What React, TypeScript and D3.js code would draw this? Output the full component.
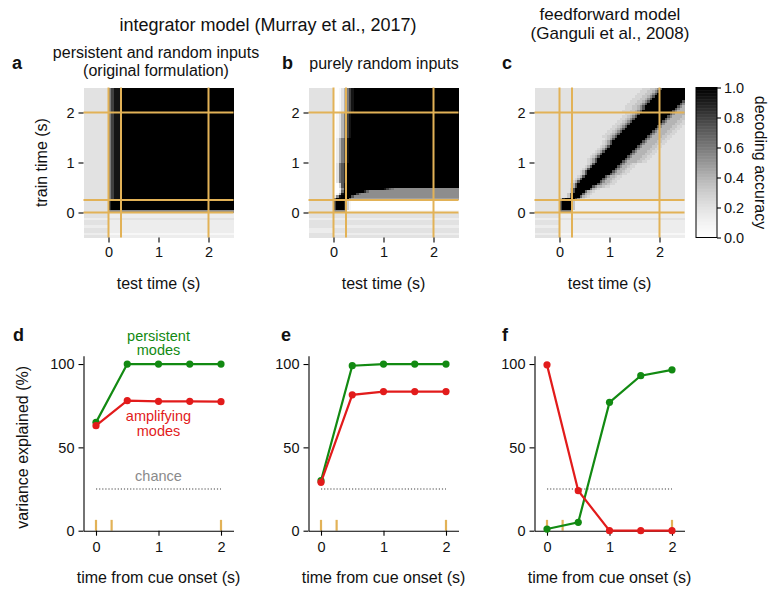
import * as d3 from "d3";
import { useEffect, useRef } from "react";

// decoding matrices, 0.05 s cells, rows from train 2.5 s (top) down to -0.5 s,
// columns from test -0.5 s to 2.5 s. entry = [row repeat, runs "level*count"],
// level is a hex digit 0..f for accuracy 0..1
const heatA: [number, string][] = [
  [45, "3*10 9 c e*3 f*45"],
  [4, "3*10 d f*49"],
  [1, "3*10 8*50"],
  [2, "3*10 2*50"],
  [1, "2*10 3*50"],
  [2, "3*10 2*50"],
  [1, "2*10 2*50"],
  [2, "3*10 2*50"],
  [1, "2*10 1*50"],
  [1, "3*10 2*50"],
];

const heatB: [number, string][] = [
  [10, "3*10 0 0 1 3 6 9 c e f*42"],
  [10, "3*10 0 1 3 6 9 c e f*43"],
  [10, "3*10 0 2 6 9 b e f*44"],
  [8, "3*10 0 3 9 b d f*45"],
  [2, "3*10 0 0 4 b e f*45"],
  [1, "3*10 0 0 1 8 e f*15 e c a 9 8*26"],
  [1, "3*10 0 0 2 a f*8 d a 8*36"],
  [1, "3*10 0 1 6 e f*5 c 9 8*39"],
  [1, "3*10 2 8 e f*4 b 8*42"],
  [1, "3*10 a f*5 9 7*43"],
  [4, "3*10 c f*3 d 4 1 0*43"],
  [1, "3*10 8*5 1*45"],
  [2, "3*10 3*50"],
  [1, "2*10 2*50"],
  [2, "3*10 3*50"],
  [1, "3*10 2*50"],
  [2, "2*10 3*50"],
  [1, "3*10 2*50"],
  [1, "3*10 3*50"],
];

const heatC: [number, string][] = [
  [1, "3*43 4 4 4 5 5 6 8 b f*9"],
  [1, "3*42 4 4 4 5 5 6 8 b f*10"],
  [1, "3*41 4 4 4 5 5 6 8 b f*11"],
  [1, "3*40 4 4 4 5 5 6 8 b f*12"],
  [1, "3*39 4 4 4 5 5 6 8 b f*13"],
  [1, "3*38 4 4 4 5 5 6 8 b f*13 b"],
  [1, "3*37 4 4 4 5 5 6 8 b f*13 b 8"],
  [1, "3*36 4 4 4 5 5 6 8 b f*13 b 8 6"],
  [1, "3*36 4 4 4 5 5 6 8 b f*12 b 8 6 6"],
  [1, "3*35 4 4 4 5 5 6 8 b f*12 b 8 6 6 6"],
  [1, "3*36 4 4 5 6 8 b f*12 b 8 6 6 6 6"],
  [1, "3*35 4 4 5 6 8 b f*12 b 8 6 6 6 6 5"],
  [1, "3*34 4 4 5 6 8 b f*12 b 8 6 6 6 6 5 5"],
  [1, "3*33 4 4 5 6 8 b f*12 b 8 6 6 6 6 5 5 4"],
  [1, "3*32 4 4 5 6 8 b f*12 b 8 6 6 6 6 5 5 4 4"],
  [1, "3*31 4 4 5 6 8 b f*12 b 8 6 6 6 6 5 5 4 4 3"],
  [1, "3*30 4 4 5 6 8 b f*12 b 8 6 6 6 6 5 5 4 4 3*2"],
  [1, "3*29 4 4 5 6 8 b f*12 b 8 6 6 6 6 5 5 4 4 3*3"],
  [1, "3*28 4 4 5 6 8 b f*12 b 8 6 6 6 6 5 5 4 4 3*4"],
  [1, "3*27 4 4 5 6 8 b f*12 b 8 6 6 6 6 5 5 4 4 3*5"],
  [1, "3*28 4 5 7 b f*12 b 8 6 6 6 6 5 5 4 4 3*6"],
  [1, "3*27 4 5 7 b f*12 b 8 6 6 6 6 5 5 4 4 3*7"],
  [1, "3*27 4 5 7 b f*11 b 8 6 6 6 6 5 5 4 4 3*8"],
  [1, "3*26 4 5 7 b f*11 b 8 6 6 6 6 5 5 4 4 3*9"],
  [1, "3*25 4 5 7 b f*11 b 8 6 6 6 6 5 5 4 4 3*10"],
  [1, "3*24 4 5 7 b f*11 b 8 6 6 6 6 5 5 4 4 3*11"],
  [1, "3*23 4 5 7 b f*11 b 8 6 6 6 6 5 5 4 4 3*12"],
  [1, "3*22 4 5 7 b f*11 b 8 6 6 6 6 5 5 4 4 3*13"],
  [1, "3*21 4 5 7 b f*11 b 8 6 6 6 6 5 5 4 4 3*14"],
  [1, "3*21 4 5 7 b f*10 b 8 6 6 6 6 5 5 4 4 3*15"],
  [1, "3*21 4 6 b f*10 b 8 6 6 5 4 4 3*19"],
  [1, "3*20 4 6 b f*10 b 8 6 6 5 4 4 3*20"],
  [1, "3*19 4 6 b f*10 b 8 6 6 5 4 4 3*21"],
  [1, "3*18 4 6 b f*10 b 8 6 6 5 4 4 3*22"],
  [1, "3*18 4 6 b f*9 b 8 6 6 5 4 4 3*23"],
  [1, "3*17 4 6 b f*8 b 8 6 6 5 4 4 3*25"],
  [1, "3*16 4 6 b f*8 b 8 6 6 5 4 4 3*26"],
  [1, "3*15 4 6 b f*8 b 8 6 6 5 4 4 3*27"],
  [1, "3*14 4 6 b f*8 b 8 6 6 5 4 4 3*28"],
  [1, "3*14 4 6 b f*6 b 8 6 6 5 4 4 3*30"],
  [1, "3*14 5 b f*6 a 6 5 4 3*34"],
  [1, "3*14 5 b f*4 a 6 5 4 3*36"],
  [1, "3*13 5 b f*4 a 6 5 4 3*37"],
  [1, "3*13 5 b f*3 a 6 5 4 3*38"],
  [1, "3*10 6 d f*4 c 8 5 4 3*40"],
  [4, "3*10 c f*4 5 2*44"],
  [1, "3*10 9*5 2*45"],
  [2, "3*10 2*50"],
  [1, "2*10 3*50"],
  [2, "3*10 2*50"],
  [1, "2*10 2*50"],
  [2, "3*10 2*50"],
  [1, "2*10 1*50"],
  [1, "3*10 2*50"],
];

const heatTicks = [0, 1, 2];
const guideTimes = [0, 0.25, 2];
const cbarTicks = [0, 0.2, 0.4, 0.6, 0.8, 1.0];

const timePoints = [0, 0.5, 1, 1.5, 2];
const persistD = [65, 100, 100, 100, 100];
const amplifyD = [63, 78, 77.6, 77.6, 77.4];
const persistE = [30, 99, 100, 100, 100];
const amplifyE = [29, 81.5, 83.5, 83.5, 83.5];
const persistF = [1, 5, 77, 93, 96.5];
const amplifyF = [99.5, 24, 0, 0, 0];
const cueMarks = [0, 0.25, 2];
const chanceLevel = 25;
const varTicks = [0, 50, 100];

const FONT = "'Liberation Sans', Arial, sans-serif";
const ORANGE = "#e2b257";
const GREEN = "#128a12";
const RED = "#e21b1b";

const decodeRows = (rows: [number, string][]) => {
  const out: number[][] = [];
  rows.forEach(([n, s]) => {
    const cells: number[] = [];
    s.split(" ").forEach(tok => {
      const [v, c] = tok.split("*");
      for (let i = 0; i < (c ? +c : 1); i++) cells.push(parseInt(v, 16) / 15);
    });
    while (cells.length < 60) cells.push(cells[cells.length - 1]);
    for (let i = 0; i < n; i++) out.push(cells.slice(0, 60));
  });
  return out;
};

const styleAxis = (g: any, size: number) => {
  g.select(".domain").attr("stroke", "#000").attr("stroke-width", 1.1);
  g.selectAll(".tick line").attr("stroke", "#000").attr("stroke-width", 1.1);
  g.selectAll(".tick text").attr("font-size", size).attr("font-family", FONT).attr("fill", "#111");
};

const App = () => {
  const ref = useRef<SVGSVGElement>(null);

  useEffect(() => {
    const svg = d3.select(ref.current);
    svg.selectAll("*").remove();

    const grey = d3.scaleSequential(d3.interpolateGreys).domain([0, 1]);
    const hY = d3.scaleLinear().domain([-0.5, 2.5]).range([237.5, 87.5]);

    const drawHeat = (rows: [number, string][], x0: number, yLabel: boolean) => {
      const g = svg.append("g");
      const hX = d3.scaleLinear().domain([-0.5, 2.5]).range([x0, x0 + 150]);
      const cells = decodeRows(rows);
      const flat: { i: number; j: number; v: number }[] = [];
      cells.forEach((r, i) => r.forEach((v, j) => flat.push({ i, j, v })));
      g.append("g")
        .selectAll("rect")
        .data(flat)
        .enter()
        .append("rect")
        .attr("x", d => hX(-0.5 + 0.05 * d.j))
        .attr("y", d => hY(2.5 - 0.05 * d.i))
        .attr("width", hX(0.05) - hX(0) + 0.3)
        .attr("height", hY(0) - hY(0.05) + 0.3)
        .attr("fill", d => grey(d.v))
        .attr("shape-rendering", "crispEdges");

      guideTimes.forEach(t => {
        g.append("line")
          .attr("x1", hX(t)).attr("x2", hX(t))
          .attr("y1", hY(-0.5)).attr("y2", hY(2.5))
          .attr("stroke", ORANGE).attr("stroke-width", 2);
        g.append("line")
          .attr("x1", hX(-0.5)).attr("x2", hX(2.5))
          .attr("y1", hY(t)).attr("y2", hY(t))
          .attr("stroke", ORANGE).attr("stroke-width", 2);
      });

      const ax = g.append("g")
        .attr("transform", `translate(0, ${hY(-0.5)})`)
        .call(d3.axisBottom(hX).tickValues(heatTicks).tickFormat(d3.format("d")).tickSize(5).tickPadding(4));
      ax.select(".domain").remove();
      styleAxis(ax, 14.5);

      const ay = g.append("g")
        .attr("transform", `translate(${x0}, 0)`)
        .call(d3.axisLeft(hY).tickValues(heatTicks).tickFormat(d3.format("d")).tickSize(5).tickPadding(4));
      ay.select(".domain").remove();
      styleAxis(ay, 14.5);

      g.append("text")
        .attr("x", x0 + 75).attr("y", 289)
        .attr("text-anchor", "middle")
        .attr("font-family", FONT).attr("font-size", 16).attr("fill", "#111")
        .text("test time (s)");
      if (yLabel) {
        g.append("text")
          .attr("transform", `translate(47, ${hY(1)}) rotate(-90)`)
          .attr("text-anchor", "middle")
          .attr("font-family", FONT).attr("font-size", 16).attr("fill", "#111")
          .text("train time (s)");
      }
    };

    drawHeat(heatA, 83.5, true);
    drawHeat(heatB, 308.5, false);
    drawHeat(heatC, 534.5, false);

    // colorbar
    const cb = svg.append("g");
    const cY = d3.scaleLinear().domain([0, 1]).range([237.5, 87.5]);
    const steps = d3.range(0, 1, 0.01);
    cb.selectAll("rect.step")
      .data(steps)
      .enter()
      .append("rect")
      .attr("x", 696).attr("width", 21)
      .attr("y", d => cY(d + 0.01))
      .attr("height", cY(0) - cY(0.01) + 0.4)
      .attr("fill", d => grey(d + 0.005));
    cb.append("rect")
      .attr("x", 696).attr("y", 87.5).attr("width", 21).attr("height", 150)
      .attr("fill", "none").attr("stroke", "#000").attr("stroke-width", 1);
    const cax = cb.append("g")
      .attr("transform", "translate(717, 0)")
      .call(d3.axisRight(cY).tickValues(cbarTicks).tickFormat(d3.format(".1f")).tickSize(4).tickPadding(3));
    cax.select(".domain").remove();
    styleAxis(cax, 14.5);
    cb.append("text")
      .attr("transform", `translate(755, ${cY(0.5)}) rotate(90)`)
      .attr("text-anchor", "middle")
      .attr("font-family", FONT).attr("font-size", 16).attr("fill", "#111")
      .text("decoding accuracy");

    // variance explained panels
    const vY = d3.scaleLinear().domain([0, 105]).range([530.7, 355.7]);
    const drawVar = (x0: number, persist: number[], amplify: number[], yLabel: boolean) => {
      const g = svg.append("g");
      const vX = d3.scaleLinear().domain([-0.2, 2.2]).range([x0, x0 + 150]);

      g.append("line")
        .attr("x1", vX(0)).attr("x2", vX(2))
        .attr("y1", vY(chanceLevel)).attr("y2", vY(chanceLevel))
        .attr("stroke", "#808080").attr("stroke-width", 1.5)
        .attr("stroke-dasharray", "1.2,1.9");

      cueMarks.forEach(t => {
        g.append("line")
          .attr("x1", vX(t)).attr("x2", vX(t))
          .attr("y1", vY(0)).attr("y2", vY(6.5))
          .attr("stroke", ORANGE).attr("stroke-width", 2.2);
      });

      const ax = g.append("g")
        .attr("transform", `translate(0, ${vY(0)})`)
        .call(d3.axisBottom(vX).tickValues(heatTicks).tickFormat(d3.format("d")).tickSize(5).tickSizeOuter(0).tickPadding(6));
      styleAxis(ax, 14.5);
      const ay = g.append("g")
        .attr("transform", `translate(${x0}, 0)`)
        .call(d3.axisLeft(vY).tickValues(varTicks).tickSize(5).tickSizeOuter(0).tickPadding(4));
      styleAxis(ay, 14.5);

      const series: [number[], string][] = [[persist, GREEN], [amplify, RED]];
      series.forEach(([vals, col]) => {
        const line = d3.line<number>().x((d, i) => vX(timePoints[i])).y(d => vY(d));
        g.append("path")
          .attr("d", line(vals))
          .attr("fill", "none").attr("stroke", col).attr("stroke-width", 2.2);
        g.selectAll(null)
          .data(vals)
          .enter()
          .append("circle")
          .attr("cx", (d, i) => vX(timePoints[i]))
          .attr("cy", d => vY(d))
          .attr("r", 3.6)
          .attr("fill", col);
      });

      g.append("text")
        .attr("x", x0 + 75).attr("y", 583)
        .attr("text-anchor", "middle")
        .attr("font-family", FONT).attr("font-size", 16).attr("fill", "#111")
        .text("time from cue onset (s)");
      if (yLabel) {
        g.append("text")
          .attr("transform", `translate(28, ${vY(50)}) rotate(-90)`)
          .attr("text-anchor", "middle")
          .attr("font-family", FONT).attr("font-size", 16).attr("fill", "#111")
          .text("variance explained (%)");
      }
      return vX;
    };

    const dX = drawVar(83.5, persistD, amplifyD, true);
    drawVar(308.5, persistE, amplifyE, false);
    drawVar(534.5, persistF, amplifyF, false);

    // two-line labels as one text element
    const lines = (x: number, y: number, rows: string[], size: number, gap: number, col: string) => {
      const t = svg.append("text")
        .attr("x", x).attr("y", y)
        .attr("text-anchor", "middle")
        .attr("font-family", FONT).attr("font-size", size).attr("fill", col);
      rows.forEach((r, i) => {
        t.append("tspan").attr("x", x).attr("dy", i === 0 ? 0 : gap).text(r);
      });
    };
    lines(dX(1), 340.5, ["persistent", "modes"], 14.5, 14.5, GREEN);
    lines(dX(1), 421, ["amplifying", "modes"], 14.5, 14.5, RED);
    lines(dX(1), 481, ["chance"], 14.5, 0, "#8a8a8a");

    // titles
    const txt = (x: number, y: number, s: string, size: number, anchor = "middle", bold = false) =>
      svg.append("text")
        .attr("x", x).attr("y", y)
        .attr("text-anchor", anchor)
        .attr("font-family", FONT).attr("font-size", size)
        .attr("font-weight", bold ? "bold" : "normal")
        .attr("fill", "#111")
        .text(s);
    txt(268, 31, "integrator model (Murray et al., 2017)", 18);
    lines(610, 19.5, ["feedforward model", "(Ganguli et al., 2008)"], 17, 19.5, "#111");
    lines(156, 57.5, ["persistent and random inputs", "(original formulation)"], 16, 18, "#111");
    txt(384, 68.5, "purely random inputs", 16);
    [["a", 12, 69], ["b", 282, 69], ["c", 502, 69], ["d", 13, 341], ["e", 281, 341], ["f", 502, 341]].forEach(
      ([l, x, y]) => txt(x as number, y as number, l as string, 18, "start", true)
    );
  }, []);

  return (
    <svg
      ref={ref}
      width={772}
      height={589}
      style={{ position: "absolute", left: 0, top: 0, background: "#fff" }}
    ></svg>
  );
};

export default App;
